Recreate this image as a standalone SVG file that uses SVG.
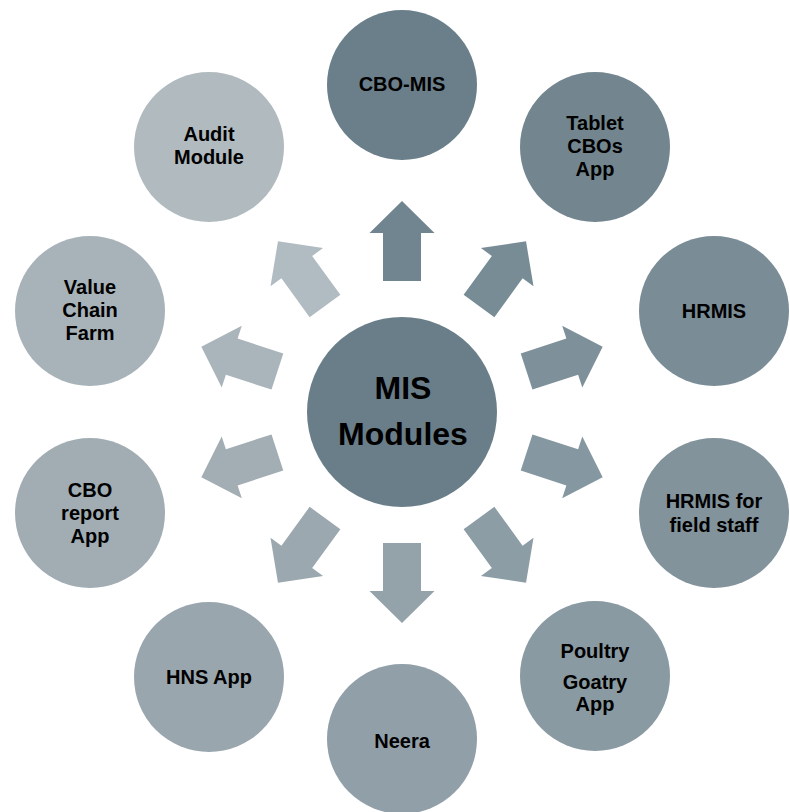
<svg xmlns="http://www.w3.org/2000/svg" width="790" height="812" viewBox="0 0 790 812">
<defs>
<style>
.t{font-family:"Liberation Sans",Arial,sans-serif;font-weight:bold;font-size:20px;fill:#000;text-anchor:middle}
.c{font-family:"Liberation Sans",Arial,sans-serif;font-weight:bold;font-size:32px;fill:#000;text-anchor:middle}
</style>
<path id="arr" d="M383,281 L383,233 L369.5,233 L402,201 L434.5,233 L421,233 L421,281 Z"/>
</defs>
<rect width="790" height="812" fill="#fff"/>
<g id="connectors">
<use href="#arr" fill="#718590" transform="rotate(0 402 412)"/>
<use href="#arr" fill="#788c96" transform="rotate(36 402 412)"/>
<use href="#arr" fill="#7e919b" transform="rotate(72 402 412)"/>
<use href="#arr" fill="#8598a1" transform="rotate(108 402 412)"/>
<use href="#arr" fill="#8d9da6" transform="rotate(144 402 412)"/>
<use href="#arr" fill="#94a2aa" transform="rotate(180 402 412)"/>
<use href="#arr" fill="#9ba8af" transform="rotate(216 402 412)"/>
<use href="#arr" fill="#a3aeb4" transform="rotate(252 402 412)"/>
<use href="#arr" fill="#aab5bb" transform="rotate(288 402 412)"/>
<use href="#arr" fill="#b1bcc2" transform="rotate(324 402 412)"/>
</g>
<g id="center">
<circle cx="402" cy="412" r="95" fill="#6a7e89"/>
<text class="c" x="403" y="399">MIS</text>
<text class="c" x="403" y="445">Modules</text>
</g>
<g id="n0">
<circle cx="402" cy="85" r="75" fill="#6b7f8a"/>
<text class="t" x="402" y="91">CBO-MIS</text>
</g>
<g id="n1">
<circle cx="595" cy="147" r="75" fill="#73868f"/>
<text class="t" x="595" y="130">Tablet</text>
<text class="t" x="595" y="153">CBOs</text>
<text class="t" x="595" y="176">App</text>
</g>
<g id="n2">
<circle cx="714" cy="311" r="75" fill="#7a8c96"/>
<text class="t" x="714" y="318">HRMIS</text>
</g>
<g id="n3">
<circle cx="714" cy="513" r="75" fill="#82939c"/>
<text class="t" x="714" y="508">HRMIS for</text>
<text class="t" x="714" y="532">field staff</text>
</g>
<g id="n4">
<circle cx="595" cy="676" r="75" fill="#8a9aa2"/>
<text class="t" x="595" y="658">Poultry</text>
<text class="t" x="595" y="689">Goatry</text>
<text class="t" x="595" y="711">App</text>
</g>
<g id="n5">
<circle cx="402" cy="739" r="75" fill="#919fa8"/>
<text class="t" x="402" y="748">Neera</text>
</g>
<g id="n6">
<circle cx="209" cy="677" r="75" fill="#99a6ae"/>
<text class="t" x="209" y="684">HNS App</text>
</g>
<g id="n7">
<circle cx="90" cy="513" r="75" fill="#a1adb3"/>
<text class="t" x="90" y="497">CBO</text>
<text class="t" x="90" y="520">report</text>
<text class="t" x="90" y="543">App</text>
</g>
<g id="n8">
<circle cx="90" cy="311" r="75" fill="#a8b3b9"/>
<text class="t" x="90" y="294">Value</text>
<text class="t" x="90" y="317">Chain</text>
<text class="t" x="90" y="340">Farm</text>
</g>
<g id="n9">
<circle cx="209" cy="147" r="75" fill="#b0babf"/>
<text class="t" x="209" y="141">Audit</text>
<text class="t" x="209" y="164">Module</text>
</g>
</svg>
